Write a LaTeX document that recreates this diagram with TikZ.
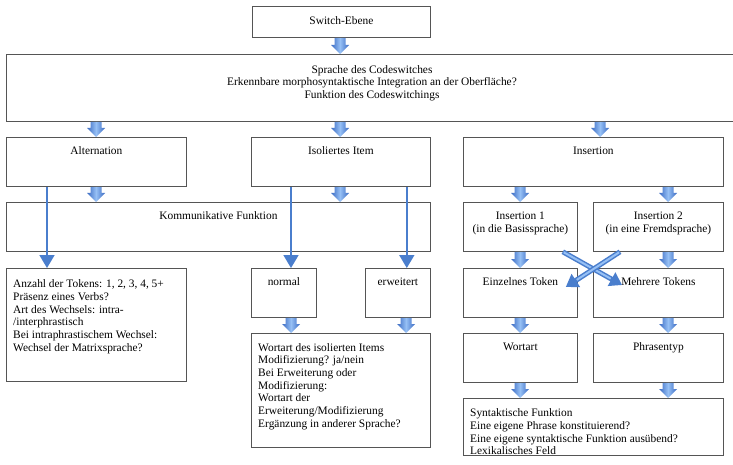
\documentclass[tikz,border=0pt]{standalone}
\usepackage{fontspec}
\setmainfont{Liberation Serif}
\usetikzlibrary{arrows.meta,calc}
\definecolor{boxline}{RGB}{85,85,85}
\definecolor{arrowdark}{RGB}{58,106,194}
\definecolor{arrowlight}{RGB}{150,192,245}
\definecolor{arrowblue}{RGB}{74,126,205}
\tikzset{
  box/.style={draw=boxline, line width=0.8pt, anchor=north west, inner sep=0pt, fill=white},
  lbl/.style={font=\fontsize{11.4}{12.7}\selectfont, inner sep=0pt, text=black},
  barrowfill/.style={left color=arrowdark, right color=arrowdark, middle color=arrowlight},
  thinarrow/.style={draw=arrowblue, line width=1.8pt, -{Triangle[width=15pt,length=13pt]}},
  crossarrow/.style={draw=arrowblue, line width=5pt, -{Triangle[width=15pt,length=12pt]}},
  crossinner/.style={draw=arrowlight, line width=2pt, shorten >=13pt, shorten <=1pt}
}
\newcommand\bx[5]{\node[box, minimum width={(#4-#2)*1pt}, minimum height={(#5-#3)*1pt}] (#1) at (#2,#3) {};}
\newcommand\barrow[3]{%
  \path[barrowfill] let \p1=(#2.south), \p2=(#3.north) in
   ({#1pt-5.5pt},\y1) -- ({#1pt+5.5pt},\y1) -- ({#1pt+5.5pt},{\y2+9pt}) -- ({#1pt+9pt},{\y2+9pt})
   -- (#1pt,\y2) -- ({#1pt-9pt},{\y2+9pt}) -- ({#1pt-5.5pt},{\y2+9pt}) -- cycle;}
\begin{document}
\begin{tikzpicture}[x=1pt,y=-1pt]
\useasboundingbox (0,0) rectangle (733,465);
\fill[white] (0,0) rectangle (733,465);
% boxes
\bx{sw}{252}{6}{430}{37}
\bx{big}{6}{54}{736}{121}
\bx{alt}{6}{137}{186}{186}
\bx{iso}{251}{137}{430}{186}
\bx{ins}{463}{137}{723}{186}
\bx{komm}{6}{202}{430}{251}
\bx{insa}{463}{202}{577}{251}
\bx{insb}{593}{202}{723}{251}
\bx{altd}{6}{268}{186}{381}
\bx{norm}{251}{268}{316}{317}
\bx{erw}{365}{268}{430}{317}
\bx{einz}{463}{268}{577}{317}
\bx{mehr}{593}{268}{723}{317}
\bx{isod}{251}{333}{430}{447}
\bx{wort}{463}{333}{577}{382}
\bx{phr}{593}{333}{723}{382}
\bx{synt}{463}{398}{723}{455}
% labels
\node[lbl, anchor=base] (tsw) at ([yshift=-19pt]sw.north) {Switch-Ebene};
\node[lbl, anchor=north, align=center] (tbig) at ([xshift=366pt,yshift=-11pt]big.north west) {Sprache des Codeswitches\\Erkennbare morphosyntaktische Integration an der Oberfläche?\\Funktion des Codeswitchings};
\node[lbl, anchor=base] (talt) at ([yshift=-17.5pt]alt.north) {Alternation};
\node[lbl, anchor=base] (tiso) at ([yshift=-17.5pt]iso.north) {Isoliertes Item};
\node[lbl, anchor=base] (tins) at ([yshift=-17.5pt]ins.north) {Insertion};
\node[lbl, anchor=base] (tkomm) at ([yshift=-17.5pt]komm.north) {Kommunikative Funktion};
\node[lbl, anchor=north, align=center] (tinsa) at ([yshift=-10pt]insa.north) {Insertion 1\\(in die Basissprache)};
\node[lbl, anchor=north, align=center] (tinsb) at ([yshift=-10pt]insb.north) {Insertion 2\\(in eine Fremdsprache)};
\node[lbl, anchor=north west, align=left] (taltd) at ([xshift=7pt,yshift=-11.5pt]altd.north west) {Anzahl der Tokens: 1, 2, 3, 4, 5+\\Präsenz eines Verbs?\\Art des Wechsels: intra-\\/interphrastisch\\Bei intraphrastischem Wechsel:\\Wechsel der Matrixsprache?};
\node[lbl, anchor=base] (tnorm) at ([yshift=-17.5pt]norm.north) {normal};
\node[lbl, anchor=base] (terw) at ([yshift=-17.5pt]erw.north) {erweitert};
\node[lbl, anchor=base] (teinz) at ([yshift=-17.5pt]einz.north) {Einzelnes Token};
\node[lbl, anchor=base] (tmehr) at ([yshift=-17.5pt]mehr.north) {Mehrere Tokens};
\node[lbl, anchor=north west, align=left] (tisod) at ([xshift=7pt,yshift=-10pt]isod.north west) {Wortart des isolierten Items\\Modifizierung? ja/nein\\Bei Erweiterung oder\\Modifizierung:\\Wortart der\\Erweiterung/Modifizierung\\Ergänzung in anderer Sprache?};
\node[lbl, anchor=base] (twort) at ([yshift=-17.5pt]wort.north) {Wortart};
\node[lbl, anchor=base] (tphr) at ([yshift=-17.5pt]phr.north) {Phrasentyp};
\node[lbl, anchor=north west, align=left] (tsynt) at ([xshift=7pt,yshift=-10.5pt]synt.north west) {Syntaktische Funktion\\Eine eigene Phrase konstituierend?\\Eine eigene syntaktische Funktion ausübend?\\Lexikalisches Feld};
% block arrows
\barrow{340}{sw}{big}
\barrow{96}{big}{alt}
\barrow{340}{big}{iso}
\barrow{600}{big}{ins}
\barrow{96}{alt}{komm}
\barrow{340}{iso}{komm}
\barrow{520}{ins}{insa}
\barrow{668}{ins}{insb}
\barrow{520}{insa}{einz}
\barrow{668}{insb}{mehr}
\barrow{291}{norm}{isod}
\barrow{406}{erw}{isod}
\barrow{520}{einz}{wort}
\barrow{668}{mehr}{phr}
\barrow{520}{wort}{synt}
\barrow{668}{phr}{synt}
% thin arrows
\draw[thinarrow] ([xshift=41pt]alt.south west) -- ([xshift=41pt]altd.north west);
\draw[thinarrow] ([xshift=40pt]iso.south west) -- ([xshift=40pt]norm.north west);
\draw[thinarrow] ([xshift=-24pt]iso.south east) -- ([xshift=-24pt]erw.north east);
% crossing arrows
\coordinate (ca) at ([xshift=-15pt]insa.south east);
\coordinate (cb) at ([xshift=27pt]insb.south west);
\coordinate (ta) at ([xshift=29pt,yshift=-17pt]mehr.north west);
\coordinate (tb) at ([xshift=-12pt,yshift=-19pt]einz.north east);
\draw[crossarrow] (ca) -- (ta);
\draw[crossinner] (ca) -- (ta);
\draw[crossarrow] (cb) -- (tb);
\draw[crossinner] (cb) -- (tb);
\end{tikzpicture}
\end{document}
